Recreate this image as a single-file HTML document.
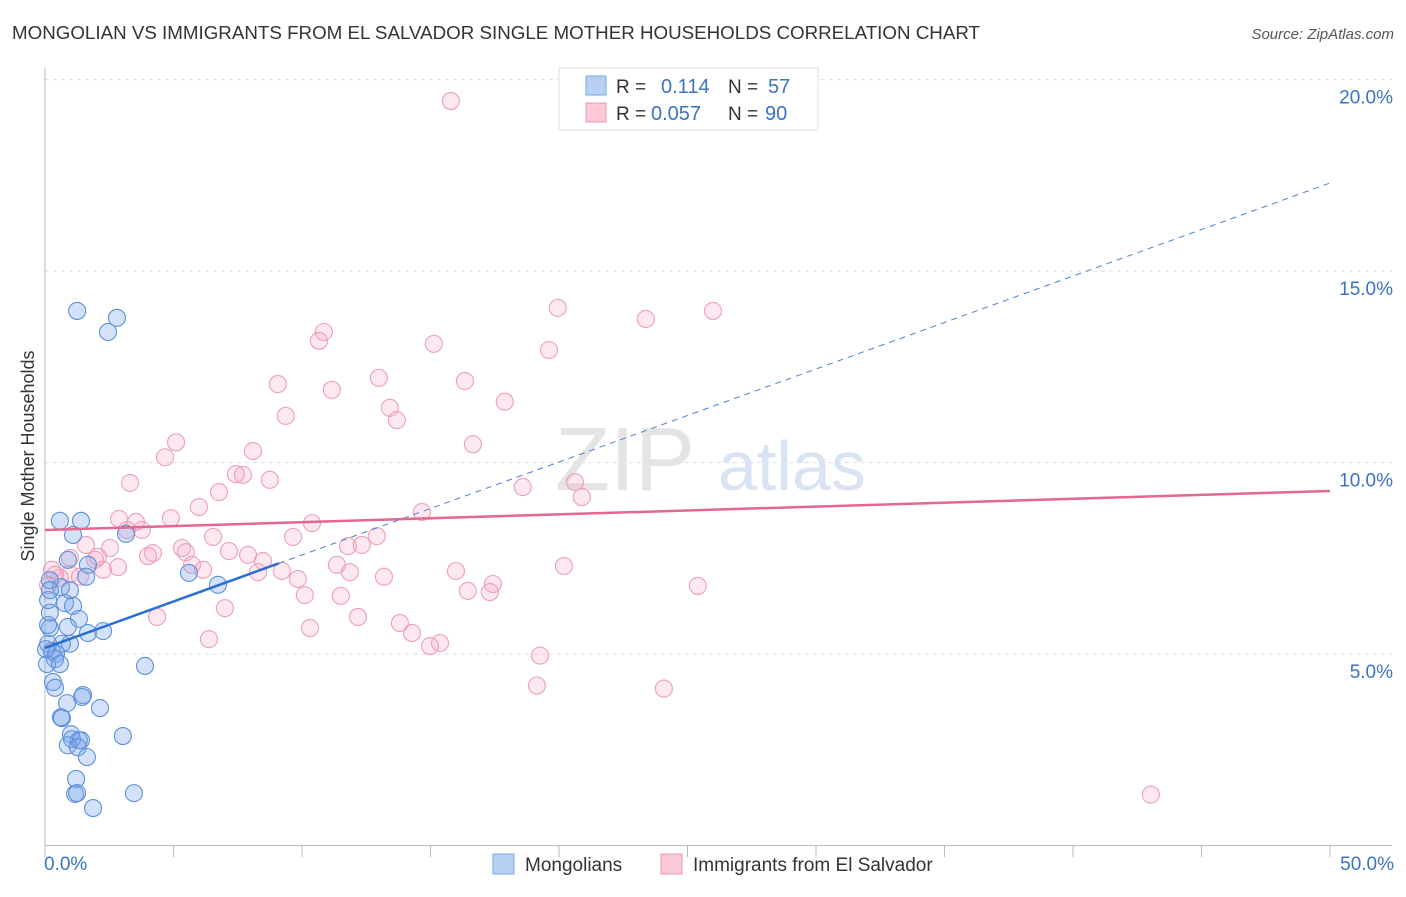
<!DOCTYPE html>
<html><head><meta charset="utf-8"><style>
body{margin:0;background:#fff;font-family:"Liberation Sans",sans-serif;}
svg text{font-family:"Liberation Sans",sans-serif;}
</style></head><body>
<svg id="chart" width="1406" height="892" viewBox="0 0 1406 892" xmlns="http://www.w3.org/2000/svg">
<text x="12" y="39" font-size="18" fill="#333" textLength="968" lengthAdjust="spacingAndGlyphs">MONGOLIAN VS IMMIGRANTS FROM EL SALVADOR SINGLE MOTHER HOUSEHOLDS CORRELATION CHART</text>
<text x="1394" y="39" font-size="15" fill="#555" text-anchor="end" font-style="italic">Source: ZipAtlas.com</text>
<g id="grid"></g>
<g id="axes"></g>
<text x="555" y="490" font-size="90" fill="#e4e4e4" font-family="Liberation Serif">ZIP</text>
<text x="718" y="490" font-size="70" fill="#d8e4f4">atlas</text>
<g id="marks"></g>
<text transform="translate(34,456) rotate(-90)" font-size="18" fill="#333" text-anchor="middle">Single Mother Households</text>
<g>
<rect x="559" y="68" width="259" height="62" fill="#fff" stroke="#ddd"/>
<rect x="586" y="76" width="20" height="19" fill="#b8d1f3" stroke="#7aa6e6"/>
<rect x="586" y="103" width="20" height="19" fill="#fbc8d6" stroke="#ee9ab3"/>
<text x="616" y="93" font-size="19" fill="#333">R =</text>
<text x="661" y="93" font-size="20" fill="#3b73c4">0.114</text>
<text x="728" y="93" font-size="19" fill="#333">N =</text>
<text x="768" y="93" font-size="20" fill="#3b73c4">57</text>
<text x="616" y="120" font-size="19" fill="#333">R =</text>
<text x="651" y="120" font-size="20" fill="#3b73c4">0.057</text>
<text x="728" y="120" font-size="19" fill="#333">N =</text>
<text x="765" y="120" font-size="20" fill="#3b73c4">90</text>
</g>
<g>
<rect x="493" y="854" width="21" height="20" fill="#b8d1f3" stroke="#7aa6e6"/>
<text x="525" y="871" font-size="19" fill="#333">Mongolians</text>
<rect x="661" y="854" width="21" height="20" fill="#fbc8d6" stroke="#ee9ab3"/>
<text x="693" y="871" font-size="19" fill="#333">Immigrants from El Salvador</text>
</g>
</svg>
<script>
const yTicks=[5,10,15,20];
const yTickLabels=["5.0%","10.0%","15.0%","20.0%"];
const xTickCount=10;
const blueX=[1.25,2.80,2.45,0.58,1.40,1.09,3.15,1.67,1.60,5.60,6.73,0.89,0.62,0.19,0.78,1.09,0.19,1.32,0.89,0.19,1.67,2.26,0.97,0.66,0.12,0.27,0.43,0.39,3.89,0.31,0.39,1.48,1.44,2.14,0.86,0.62,0.66,1.01,1.32,1.05,1.40,0.89,3.03,1.28,1.63,1.21,1.17,1.25,3.46,1.87,0.12,0.19,0.08,0.04,0.58,0.97,0.12];
const blueY=[13.96,13.78,13.41,8.48,8.48,8.11,8.14,7.33,7.02,7.12,6.81,7.46,6.75,6.93,6.33,6.26,6.08,5.92,5.71,5.68,5.55,5.60,5.27,5.27,5.27,5.08,5.01,4.87,4.69,4.27,4.12,3.93,3.88,3.59,3.72,3.35,3.33,2.91,2.75,2.78,2.75,2.62,2.86,2.57,2.31,1.74,1.35,1.37,1.37,0.98,6.41,6.67,4.74,5.13,4.74,6.67,5.76];
const pinkX=[15.79,19.95,25.99,23.38,10.85,10.66,15.13,19.61,9.06,12.99,16.34,11.16,17.89,13.42,9.37,13.69,5.10,16.65,4.67,8.09,7.43,7.70,3.31,8.75,6.77,18.59,20.62,20.89,5.99,14.67,2.88,4.90,3.54,10.39,3.19,3.77,6.54,9.65,12.91,1.59,2.53,5.33,11.79,12.33,7.90,4.20,4.01,7.16,5.48,8.48,0.97,2.06,1.95,5.72,6.15,11.36,2.84,2.26,8.29,9.22,11.86,15.99,20.19,13.19,0.97,1.36,0.39,9.84,17.43,16.45,17.31,25.40,0.12,0.58,7.00,10.11,11.51,4.36,12.18,13.81,10.31,14.28,15.37,14.98,6.38,19.26,19.14,24.08,43.03,0.27];
const pinkY=[19.44,14.04,13.96,13.75,13.41,13.18,13.10,12.94,12.05,12.21,12.13,11.90,11.59,11.43,11.22,11.11,10.53,10.48,10.14,10.30,9.70,9.68,9.47,9.55,9.23,9.36,9.49,9.10,8.84,8.71,8.53,8.55,8.45,8.42,8.24,8.24,8.06,8.06,8.08,7.85,7.77,7.77,7.82,7.85,7.59,7.64,7.56,7.69,7.66,7.43,7.51,7.54,7.46,7.33,7.20,7.33,7.27,7.20,7.14,7.17,7.14,7.17,7.30,7.02,7.09,7.02,7.07,6.96,6.83,6.65,6.62,6.78,6.80,6.99,6.20,6.54,6.52,5.97,5.97,5.81,5.68,5.55,5.29,5.21,5.39,4.96,4.18,4.10,1.33,7.20];
const blueTrend=[5.16,17.30];
const blueSolidEnd=9.1;
const pinkTrend=[8.24,9.26];
const NS="http://www.w3.org/2000/svg";
const X=v=>45+v/50*1285;
const Y=v=>845.6-v/5*191.5;
function mk(t,a,p){const e=document.createElementNS(NS,t);for(const k in a)e.setAttribute(k,a[k]);p.appendChild(e);return e;}
const grid=document.getElementById('grid'),axes=document.getElementById('axes'),marks=document.getElementById('marks');
yTicks.forEach((t,i)=>{
 const l=mk('line',{x1:45,x2:1392,y1:Y(t),y2:Y(t),stroke:'#ddd','stroke-dasharray':'4,4'},grid);
 
 
 const tx=mk('text',{x:1393,y:Y(t)+24,'font-size':19,fill:'#3b73c4','text-anchor':'end'},axes);
 tx.textContent=yTickLabels[i];
 
 
});
mk('line',{x1:45,x2:45,y1:68,y2:846,stroke:'#bbb'},axes);
mk('line',{x1:45,x2:1392,y1:845.5,y2:845.5,stroke:'#bbb'},axes);
for(let i=0;i<=xTickCount;i++){
 const l=mk('line',{x1:X(i*5),x2:X(i*5),y1:845,y2:857,stroke:'#bbb'},axes);
 
 
}
const xl0=mk('text',{x:44,y:870,'font-size':19,fill:'#3b73c4'},axes);xl0.textContent='0.0%';


const xl1=mk('text',{x:1394,y:870,'font-size':19,fill:'#3b73c4','text-anchor':'end'},axes);xl1.textContent='50.0%';


pinkX.forEach((x,i)=>{
 const c=mk('circle',{cx:X(x),cy:Y(pinkY[i]),r:8.5,fill:'rgba(246,165,190,0.25)',stroke:'#ec9fb6','stroke-width':1.1},marks);
 
 
});
blueX.forEach((x,i)=>{
 const c=mk('circle',{cx:X(x),cy:Y(blueY[i]),r:8.5,fill:'rgba(120,165,235,0.32)',stroke:'#5d90da','stroke-width':1.1},marks);
 
 
});
const bAt=v=>blueTrend[0]+(blueTrend[1]-blueTrend[0])*v/50;
const bd=mk('line',{x1:X(blueSolidEnd),y1:Y(bAt(blueSolidEnd)),x2:X(50),y2:Y(blueTrend[1]),stroke:'#4a7fd0','stroke-width':1,'stroke-dasharray':'6,5'},marks);


const bs=mk('line',{x1:X(0),y1:Y(blueTrend[0]),x2:X(blueSolidEnd),y2:Y(bAt(blueSolidEnd)),stroke:'#2b6fd6','stroke-width':2.5},marks);


const pl=mk('line',{x1:X(0),y1:Y(pinkTrend[0]),x2:X(50),y2:Y(pinkTrend[1]),stroke:'#e5668f','stroke-width':2.5},marks);


</script>
</body></html>
